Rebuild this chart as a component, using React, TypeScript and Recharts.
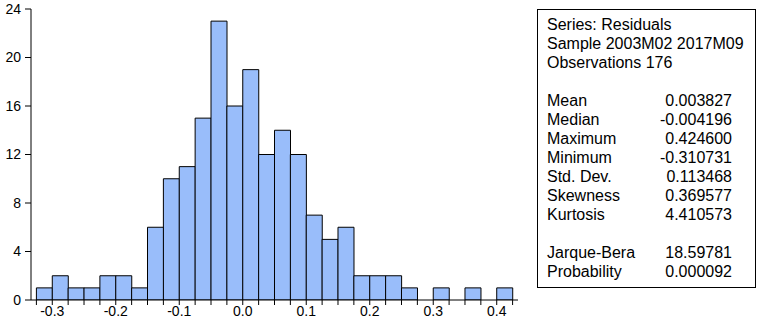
import React from "react";
import { BarChart, Bar, XAxis, YAxis } from "recharts";

// Histogram bins (centers, width 0.025) and counts
const binCenters = [
  -0.3125, -0.2875, -0.2625, -0.2375, -0.2125, -0.1875, -0.1625, -0.1375, -0.1125, -0.0875,
  -0.0625, -0.0375, -0.0125, 0.0125, 0.0375, 0.0625, 0.0875, 0.1125, 0.1375, 0.1625,
  0.1875, 0.2125, 0.2375, 0.2625, 0.2875, 0.3125, 0.3375, 0.3625, 0.3875, 0.4125,
];
const counts = [
  1, 2, 1, 1, 2, 2, 1, 6, 10, 11,
  15, 23, 16, 19, 12, 14, 12, 7, 5, 6,
  2, 2, 2, 1, 0, 1, 0, 1, 0, 1,
];

// Bin edges used as x tick marks; labelled ticks
const binEdges = [
  -0.325, -0.3, -0.275, -0.25, -0.225, -0.2, -0.175, -0.15, -0.125, -0.1, -0.075,
  -0.05, -0.025, 0, 0.025, 0.05, 0.075, 0.1, 0.125, 0.15, 0.175, 0.2, 0.225,
  0.25, 0.275, 0.3, 0.325, 0.35, 0.375, 0.4, 0.425,
];
const xLabelValues = [-0.3, -0.2, -0.1, 0, 0.1, 0.2, 0.3, 0.4];
const xLabelTexts = ["-0.3", "-0.2", "-0.1", "0.0", "0.1", "0.2", "0.3", "0.4"];
const xDomain = [-0.3335, 0.4335];

const yTicks = [0, 4, 8, 12, 16, 20, 24];

// Statistics panel
const headerLines = ["Series: Residuals", "Sample 2003M02 2017M09", "Observations 176"];
const statLabels = ["Mean", "Median", "Maximum", "Minimum", "Std. Dev.", "Skewness", "Kurtosis"];
const statValues = ["0.003827", "-0.004196", "0.424600", "-0.310731", "0.113468", "0.369577", "4.410573"];
const testLabels = ["Jarque-Bera", "Probability"];
const testValues = ["18.59781", "0.000092"];

const data = binCenters.map((c, i) => ({ x: c, count: counts[i] }));

const FONT = "'Liberation Sans', Arial, sans-serif";

const fmtX = (v: number) => {
  const idx = xLabelValues.findIndex((l) => Math.abs(l - v) < 1e-6);
  return idx >= 0 ? xLabelTexts[idx] : "";
};

const Row = ({ label, value }: { label: string; value: string }) => (
  <div style={{ display: "flex", height: 19, whiteSpace: "nowrap" }}>
    <span style={{ width: 100 }}>{label}</span>
    <span style={{ width: 85, textAlign: "right" }}>{value}</span>
  </div>
);

export default function App() {
  return (
    <div style={{ position: "absolute", left: 0, top: 0, width: 762, height: 324, background: "#fff" }}>
      <BarChart
        width={762}
        height={324}
        data={data}
        margin={{ top: 9, right: 244, bottom: 0, left: 0 }}
        barCategoryGap={0}
        barGap={0}
      >
        <XAxis
          dataKey="x"
          type="number"
          domain={xDomain}
          ticks={binEdges}
          interval={0}
          tickFormatter={fmtX}
          height={24}
          tickSize={5}
          tickMargin={1}
          axisLine={{ stroke: "#000" }}
          tickLine={{ stroke: "#000" }}
          tick={{ fill: "#000", fontSize: 14, fontFamily: FONT }}
          allowDataOverflow
        />
        <XAxis
          xAxisId="top"
          orientation="top"
          type="number"
          domain={xDomain}
          height={0}
          tick={false}
          tickLine={false}
          axisLine={{ stroke: "#000" }}
          allowDataOverflow
        />
        <YAxis
          type="number"
          domain={[0, 24]}
          ticks={yTicks}
          interval={0}
          width={31}
          tickSize={6}
          tickMargin={4}
          axisLine={{ stroke: "#000" }}
          tickLine={{ stroke: "#000" }}
          tick={{ fill: "#000", fontSize: 14, fontFamily: FONT }}
          allowDataOverflow
        />
        <YAxis
          yAxisId="right"
          orientation="right"
          type="number"
          domain={[0, 24]}
          width={0}
          tick={false}
          tickLine={false}
          axisLine={{ stroke: "#000" }}
        />
        <Bar dataKey="count" fill="#99BDFA" stroke="#000" strokeWidth={1} isAnimationActive={false} />
      </BarChart>
      <div
        style={{
          position: "absolute",
          left: 537,
          top: 9,
          width: 208,
          height: 272,
          border: "1px solid #000",
          fontFamily: FONT,
          fontSize: 16,
          lineHeight: "19px",
          color: "#000",
          paddingTop: 5,
          paddingLeft: 9,
          boxSizing: "content-box",
        }}
      >
        {headerLines.map((t) => (
          <div key={t} style={{ height: 19, whiteSpace: "nowrap" }}>{t}</div>
        ))}
        <div style={{ height: 19 }} />
        {statLabels.map((l, i) => (
          <Row key={l} label={l} value={statValues[i]} />
        ))}
        <div style={{ height: 19 }} />
        {testLabels.map((l, i) => (
          <Row key={l} label={l} value={testValues[i]} />
        ))}
      </div>
    </div>
  );
}
